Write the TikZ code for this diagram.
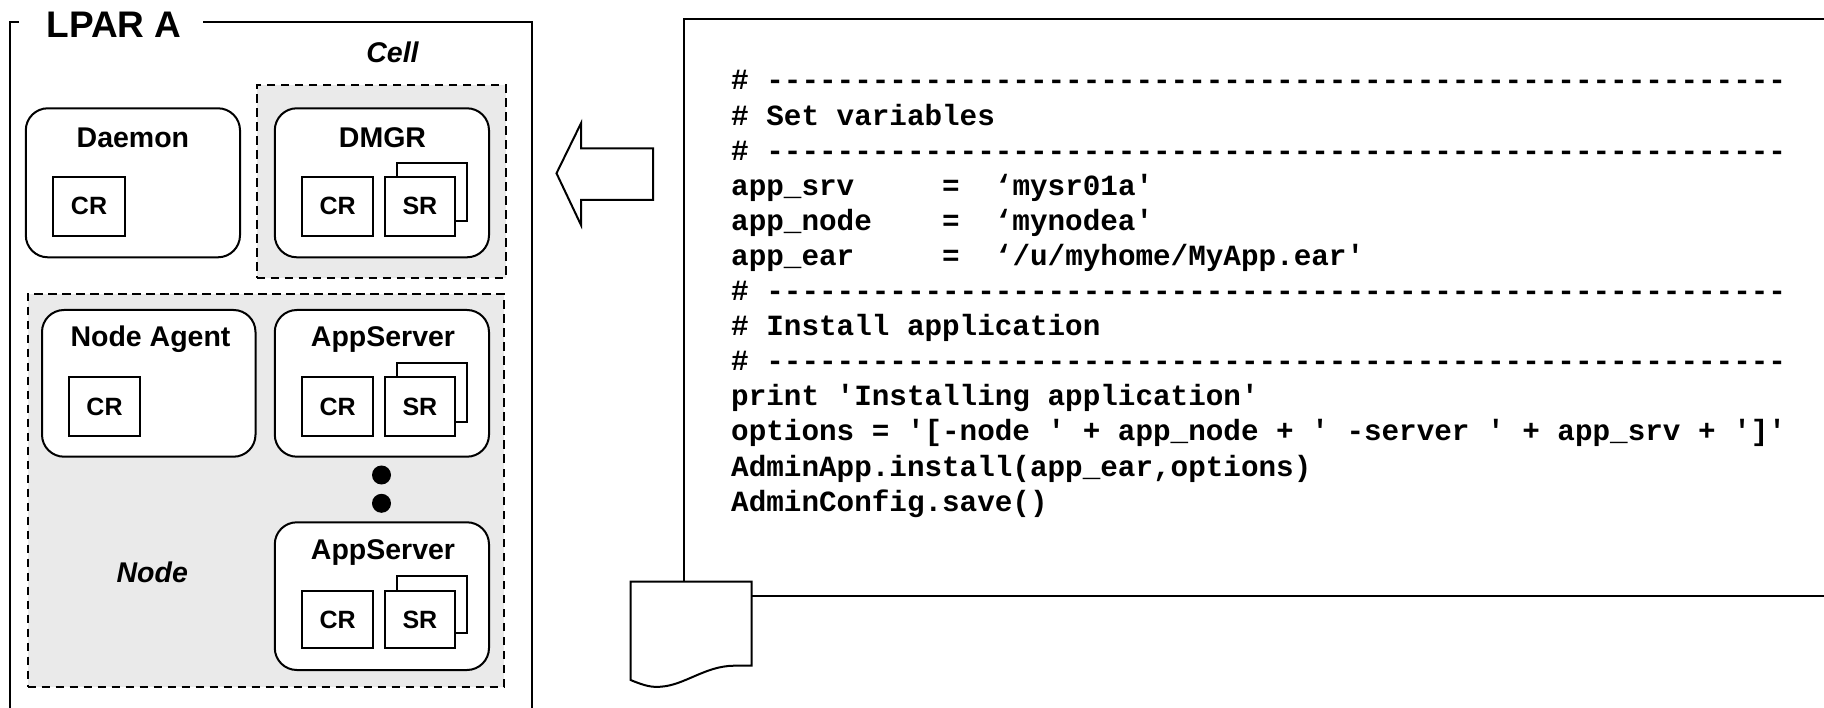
\documentclass[tikz,border=0pt]{standalone}
\usepackage{fontspec}
\newfontfamily\lsans{Liberation Sans}
\setmonofont{Liberation Mono}
\definecolor{nodegray}{RGB}{234,234,234}
\newcommand\mkbox[7]{%
  \node[#2, minimum width={(#5)-(#3)}, minimum height={(#6)-(#4)}] (#1) at ({((#3)+(#5))/2},{((#4)+(#6))/2}) {#7};}
\tikzset{
  frameline/.style={line width=2.2pt},
  dashbox/.style={draw, fill=nodegray, dash pattern=on 8.5pt off 5.5pt, line width=2pt, inner sep=0},
  rbox/.style={draw, fill=white, rounded corners=22pt, line width=2pt, inner sep=0},
  crbox/.style={draw, fill=white, line width=2pt, inner sep=0, font=\lsans\bfseries\fontsize{25}{27}\selectfont},
  title/.style={inner sep=0, anchor=base, font=\lsans\bfseries\fontsize{28.5}{30}\selectfont},
  ititle/.style={inner sep=0, font=\lsans\bfseries\itshape\fontsize{28.5}{30}\selectfont},
  codeline/.style={inner sep=0, anchor=base west, font=\ttfamily\bfseries\fontsize{29.3}{35}\selectfont},
  dot/.style={circle, fill=black, minimum size=19pt, inner sep=0},
  shapeline/.style={line width=2pt}
}
\begin{document}
\begin{tikzpicture}[x=1pt,y=-1pt]
\useasboundingbox (0,0) rectangle (1824,708);
% LPAR frame
\node[inner sep=0, anchor=base west, font=\lsans\bfseries\fontsize{37}{40}\selectfont] (lpar) at (46.5,38) {LPAR A};
\draw[frameline] (19,21.7) -- (10.3,21.7) -- (10.3,708);
\draw[frameline] (203,21.7) -- (532,21.7) -- (532,708);
% Cell
\node[ititle, anchor=base] (celllbl) at (392.5,62.7) {Cell};
\mkbox{cell}{dashbox}{256.5}{85}{505.5}{277.7}{}
% Daemon
\mkbox{daemon}{rbox}{25.8}{108.3}{240}{257.3}{}
\node[title] (daemont) at (132.9,147.3) {Daemon};
\mkbox{daemoncr}{crbox}{53.4}{177}{124.7}{235.7}{CR}
% DMGR
\mkbox{dmgr}{rbox}{274.8}{108.3}{489}{257.3}{}
\node[title] (dmgrt) at (382.5,147.3) {DMGR};
\mkbox{dmgrsrb}{crbox}{396.7}{162.7}{467.3}{221}{}
\mkbox{dmgrcr}{crbox}{302.3}{177}{373}{235.7}{CR}
\mkbox{dmgrsr}{crbox}{384.6}{177}{455.2}{235.7}{SR}
% Node
\mkbox{node}{dashbox}{27.5}{294}{503.8}{686.7}{}
\node[ititle, anchor=base west] (nodelbl) at (116.4,582.7) {Node};
% Node Agent
\mkbox{na}{rbox}{42}{310}{255.5}{456.7}{}
\node[title] (nat) at (150.5,346.7) {Node Agent};
\mkbox{nacr}{crbox}{68.9}{377.3}{140.2}{435.7}{CR}
% AppServer 1
\mkbox{asa}{rbox}{274.8}{310}{489}{456.7}{}
\node[title] (asat) at (383,346.7) {AppServer};
\mkbox{asasrb}{crbox}{396.7}{362.7}{467.3}{421.7}{}
\mkbox{asacr}{crbox}{302.3}{377.3}{373}{435.7}{CR}
\mkbox{asasr}{crbox}{384.6}{377.3}{455.2}{435.7}{SR}
% dots
\node[dot] (dota) at (381.5,475) {};
\node[dot] (dotb) at (381.5,503.3) {};
% AppServer 2
\mkbox{asb}{rbox}{274.8}{522.3}{489}{670}{}
\node[title] (asbt) at (383,559.3) {AppServer};
\mkbox{asbsrb}{crbox}{396.7}{576}{467.3}{633.3}{}
\mkbox{asbcr}{crbox}{302.3}{591}{373}{648.3}{CR}
\mkbox{asbsr}{crbox}{384.6}{591}{455.2}{648.3}{SR}
% arrow
\draw[shapeline, fill=white, line join=miter] (556.5,173.3) -- (581,123.3) -- (581,148.3) -- (653,148.3) -- (653,200) -- (581,200) -- (581,225) -- cycle;
% code box
\draw[shapeline] (684.2,581.7) -- (684.2,19.3) -- (1824,19.3);
\draw[shapeline] (751.5,596) -- (1824,596);
\draw[shapeline, fill=white] (630.6,581.7) -- (751.5,581.7) -- (751.5,665.7) -- (734,665.7)
  .. controls (705,666) and (685,685) .. (661,686.7)
  .. controls (652,687.5) and (645,686) .. (630.6,680) -- cycle;
% code
\node[codeline] (c1) at (731,90) {\#~----------------------------------------------------------};
\node[codeline] (c2) at (731,125.1) {\#~Set~variables};
\node[codeline] (c3) at (731,160.2) {\#~----------------------------------------------------------};
\node[codeline] (c4) at (731,195.3) {app\_srv~~~~~=~~‘mysr01a'};
\node[codeline] (c5) at (731,230.4) {app\_node~~~~=~~‘mynodea'};
\node[codeline] (c6) at (731,265.5) {app\_ear~~~~~=~~‘/u/myhome/MyApp.ear'};
\node[codeline] (c7) at (731,300.6) {\#~----------------------------------------------------------};
\node[codeline] (c8) at (731,335.7) {\#~Install~application};
\node[codeline] (c9) at (731,370.8) {\#~----------------------------------------------------------};
\node[codeline] (c10) at (731,405.9) {print~'Installing~application'};
\node[codeline] (c11) at (731,441) {options~=~'[-node~'~+~app\_node~+~'~-server~'~+~app\_srv~+~']'};
\node[codeline] (c12) at (731,476.1) {AdminApp.install(app\_ear,options)};
\node[codeline] (c13) at (731,511.2) {AdminConfig.save()};
\end{tikzpicture}
\end{document}
